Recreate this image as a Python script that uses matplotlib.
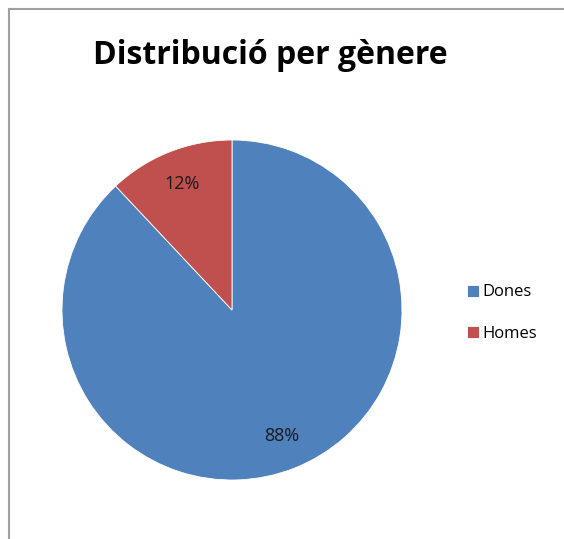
import matplotlib
matplotlib.use("Agg")
import matplotlib.pyplot as plt
from matplotlib.lines import Line2D

categories = ["Dones", "Homes"]
values = [88, 12]
colors = ["#4F81BD", "#C0504D"]

fig = plt.figure(figsize=(5.64, 5.39), dpi=100)
fig.patch.set_facecolor("white")

# pie area, roughly 340 px across
ax = fig.add_axes([62 / 564, 59 / 539, 340 / 564, 340 / 539])
wedges, texts, autotexts = ax.pie(values, colors=colors, startangle=90, counterclock=False,
                                  autopct="%1.0f%%", pctdistance=0.8,
                                  wedgeprops=dict(edgecolor="white", linewidth=0.6),
                                  textprops=dict(fontsize=13, color="#1a1a1a", family="Open Sans"))
ax.set_xlim(-1, 1)
ax.set_ylim(-1, 1)
ax.set_aspect("equal")

fig.text(270 / 564, 1 - 56 / 539, "Distribució per gènere", ha="center", va="center",
         fontsize=23, fontweight="bold", family="Open Sans")

leg = fig.legend(wedges, categories, loc="center left", bbox_to_anchor=(452 / 564, 1 - 313 / 539),
                 frameon=False, handlelength=0.7, handleheight=0.7, handletextpad=0.25,
                 labelspacing=1.5, prop=dict(family="Open Sans", size=12))

# chart frame (only top and left visible)
fig.add_artist(Line2D([8.5 / 564, 8.5 / 564], [0, 1 - 8.5 / 539], color="#a0a0a0", lw=1.5))
fig.add_artist(Line2D([8.5 / 564, 1], [1 - 8.5 / 539, 1 - 8.5 / 539], color="#a0a0a0", lw=1.5))

fig.savefig("out.png", dpi=100)
